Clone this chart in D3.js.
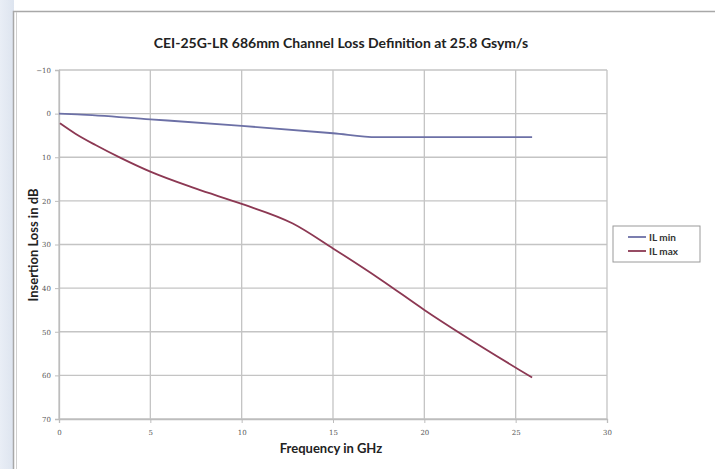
<!DOCTYPE html>
<html>
<head>
<meta charset="utf-8">
<script src="https://cdn.jsdelivr.net/npm/d3@7"></script>
<style>
  body { margin: 0; background: #fff; }
  svg { display: block; }
  .tick text { font-family: "DejaVu Serif", serif; font-size: 7px; fill: #555; }
</style>
</head>
<body>
<svg width="715" height="469"></svg>
<script>
// waarden
var ilMinFreq = [0, 1, 5, 10, 15, 17.4, 25.9];
var ilMinLoss = [0, 0.15, 1.3, 2.8, 4.5, 5.4, 5.4];
var ilMaxFreq = [0.05, 0.9, 2, 3.4, 5, 7.5, 10, 12.8, 15, 17.6, 20, 25.9];
var ilMaxLoss = [2.2, 4.6, 7.2, 10.2, 13.3, 17.2, 20.7, 25.2, 30.9, 38.0, 45.0, 60.5];
var xTicks = [0, 5, 10, 15, 20, 25, 30];
var yTicks = [-10, 0, 10, 20, 30, 40, 50, 60, 70];
var seriesNames = ["IL min", "IL max"];
var seriesColors = ["#6c70a6", "#8c3853"];

var svg = d3.select("svg");

// lichte strook links en de kaderrand van de grafiek
var grad = svg.append("defs").append("linearGradient")
    .attr("id", "strook").attr("x1", 0).attr("x2", 1);
grad.append("stop").attr("offset", "0%").attr("stop-color", "#e9eef6");
grad.append("stop").attr("offset", "100%").attr("stop-color", "#dde4ef");
svg.append("rect").attr("x", 0).attr("y", 0).attr("width", 14).attr("height", 469)
    .attr("fill", "url(#strook)");
svg.append("rect").attr("x", 13.5).attr("y", 11.5).attr("width", 720).attr("height", 470)
    .attr("fill", "#fff").attr("stroke", "#a8a8a8").attr("stroke-width", 1.5);
svg.append("line").attr("x1", 16.5).attr("x2", 16.5).attr("y1", 12).attr("y2", 469)
    .attr("stroke", "#d0d0d0");

var margin = { top: 70, left: 59 },
    width = 607 - 59,
    height = 419 - 70;

var x = d3.scaleLinear().domain([0, 30]).range([0, width]);
var y = d3.scaleLinear().domain([-10, 70]).range([0, height]);

var g = svg.append("g")
    .attr("transform", "translate(" + margin.left + "," + margin.top + ")");

// rasterlijnen
g.selectAll(".hgrid").data(yTicks).enter().append("line")
    .attr("x1", 0).attr("x2", width)
    .attr("y1", function (d) { return y(d); })
    .attr("y2", function (d) { return y(d); })
    .attr("stroke", "#c4c4c4").attr("stroke-width", 1.3);
g.selectAll(".vgrid").data(xTicks).enter().append("line")
    .attr("y1", 0).attr("y2", height)
    .attr("x1", function (d) { return x(d); })
    .attr("x2", function (d) { return x(d); })
    .attr("stroke", "#c4c4c4").attr("stroke-width", 1.3);

// assen
var xAxis = g.append("g")
    .attr("transform", "translate(0," + height + ")")
    .call(d3.axisBottom(x).tickValues(xTicks).tickSize(4).tickPadding(7));
var yAxis = g.append("g")
    .call(d3.axisLeft(y).tickValues(yTicks).tickSize(4).tickPadding(4));
[xAxis, yAxis].forEach(function (a) {
    a.select(".domain").attr("stroke", "#bdbdbd").attr("stroke-width", 1.3);
    a.selectAll(".tick line").attr("stroke", "#bdbdbd");
});

// lijnen tekenen
var line = d3.line()
    .x(function (d) { return x(d[0]); })
    .y(function (d) { return y(d[1]); })
    .curve(d3.curveMonotoneX);

var series = [d3.zip(ilMinFreq, ilMinLoss), d3.zip(ilMaxFreq, ilMaxLoss)];
g.selectAll(".serie").data(series).enter().append("path")
    .attr("fill", "none")
    .attr("stroke", function (d, i) { return seriesColors[i]; })
    .attr("stroke-width", 1.8)
    .attr("d", line);

// titels
var fontBold = "Lato, 'Open Sans', sans-serif";
svg.append("text").attr("x", 341).attr("y", 48)
    .attr("text-anchor", "middle")
    .style("font-family", fontBold).style("font-weight", "bold").style("font-size", "14px")
    .attr("fill", "#222")
    .text("CEI-25G-LR 686mm Channel Loss Definition at 25.8 Gsym/s");
svg.append("text").attr("x", 331).attr("y", 453)
    .attr("text-anchor", "middle")
    .style("font-family", fontBold).style("font-weight", "bold").style("font-size", "13px")
    .attr("fill", "#222")
    .text("Frequency in GHz");
svg.append("text")
    .attr("transform", "translate(38,245) rotate(-90)")
    .attr("text-anchor", "middle")
    .style("font-family", fontBold).style("font-weight", "bold").style("font-size", "13px")
    .attr("fill", "#222")
    .text("Insertion Loss in dB");

// legenda
var leg = svg.append("g").attr("transform", "translate(613,226)");
leg.append("rect").attr("width", 87).attr("height", 36)
    .attr("fill", "#fff").attr("stroke", "#9a9a9a");
var item = leg.selectAll(".item").data(seriesNames).enter().append("g")
    .attr("transform", function (d, i) { return "translate(0," + (11 + i * 14) + ")"; });
item.append("line").attr("x1", 15).attr("x2", 33)
    .attr("stroke", function (d, i) { return seriesColors[i]; }).attr("stroke-width", 1.8);
item.append("text").attr("x", 36).attr("dy", "0.35em")
    .style("font-family", fontBold).style("font-weight", "bold").style("font-size", "10px")
    .attr("fill", "#333")
    .text(function (d) { return d; });
</script>
</body>
</html>
